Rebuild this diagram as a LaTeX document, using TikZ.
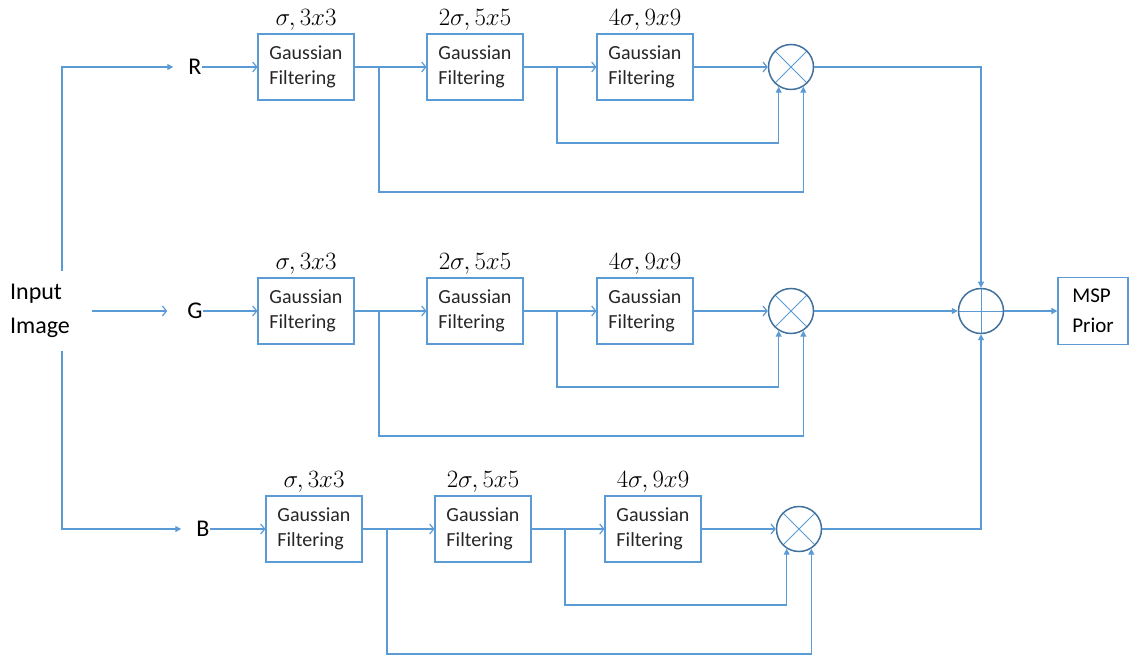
\documentclass[tikz,border=0pt]{standalone}
\usepackage[no-math]{fontspec}
\setmainfont{Carlito}
\usetikzlibrary{positioning, arrows.meta}
\definecolor{lineblue}{RGB}{91,155,213}
\definecolor{ringblue}{RGB}{65,113,156}

\begin{document}
\begin{tikzpicture}[x=1pt, y=-1pt,
  sig/.style={draw=lineblue, line width=1.2pt},
  sigo/.style={sig, -{Straight Barb[length=4pt, width=10pt]}},
  sigf/.style={sig, -{Triangle[length=6pt, width=6pt]}},
  chan/.style={inner sep=0pt, font=\fontsize{24}{28}\selectfont},
  filt/.style={draw=lineblue, line width=1.1pt, minimum width=96pt, minimum height=66pt,
    inner sep=0pt, align=left, text=black!85, font=\fontsize{20}{25}\selectfont},
  lbl/.style={inner sep=0pt, font=\fontsize{25}{28}\selectfont},
  mult/.style={circle, draw=ringblue, line width=1.5pt, minimum size=45pt, inner sep=0pt,
    path picture={
      \draw[lineblue, line width=0.8pt] (path picture bounding box.north west) -- (path picture bounding box.south east);
      \draw[lineblue, line width=0.8pt] (path picture bounding box.north east) -- (path picture bounding box.south west);}},
  addop/.style={circle, draw=ringblue, line width=1.5pt, minimum size=45pt, inner sep=0pt,
    path picture={
      \draw[lineblue, line width=0.8pt] (path picture bounding box.north) -- (path picture bounding box.south);
      \draw[lineblue, line width=0.8pt] (path picture bounding box.west) -- (path picture bounding box.east);}},
  prior/.style={draw=lineblue, line width=1.1pt, minimum width=70pt, minimum height=67pt,
    inner sep=0pt, align=left, font=\fontsize{21}{30}\selectfont}]
\useasboundingbox (0,0) rectangle (1130,660);

% input
\node[align=left, inner xsep=2pt, inner ysep=13pt, font=\fontsize{24}{34}\selectfont] (in) at (40,311) {Input\\Image};
\coordinate (vx) at (62,311);

% R, G, B rows
\foreach \c/\y/\dx in {R/67/0, G/311/0, B/529/8} {
  \node[chan] (ch\c) at (195+\dx, \y) {\c};
  \foreach \k/\xx/\s in {1/306/{\sigma, 3x3}, 2/475/{2\sigma, 5x5}, 3/645/{4\sigma, 9x9}} {
    \node[filt] (f\c\k) at (\xx+\dx, \y) {Gaussian\\Filtering};
    \node[lbl, above=3pt of f\c\k] (l\c\k) {$\s$};
  }
  \node[mult] (m\c) at (791+\dx, \y) {};
  \coordinate (t\c1) at (379+\dx, \y);
  \coordinate (t\c2) at (557+\dx, \y);

  \draw[sigo] (ch\c) -- (f\c1);
  \draw[sigo] (f\c1) -- (f\c2);
  \draw[sigo] (f\c2) -- (f\c3);
  \draw[sigo] (f\c3) -- (m\c);
  \draw[sigf] (t\c1) -- ++(0,125) -| (m\c.-58);
  \draw[sigf] (t\c2) -- ++(0,76) -| (m\c.-122);
}

% input to channels
\draw[sigf, shorten >=15pt] (vx |- in.north) |- (chR);
\draw[sigf, shorten >=15pt] (vx |- in.south) |- (chB);
\draw[sigo, shorten <=20pt, shorten >=20pt] (in) -- (chG);

% sum and output
\node[addop] (sum) at (981,311) {};
\node[prior] (msp) at (1093,311) {MSP\\Prior};
\draw[sigf] (mR) -| (sum);
\draw[sigf] (mG) -- (sum);
\draw[sigf] (mB) -| (sum);
\draw[sigf] (sum) -- (msp);

\end{tikzpicture}
\end{document}
